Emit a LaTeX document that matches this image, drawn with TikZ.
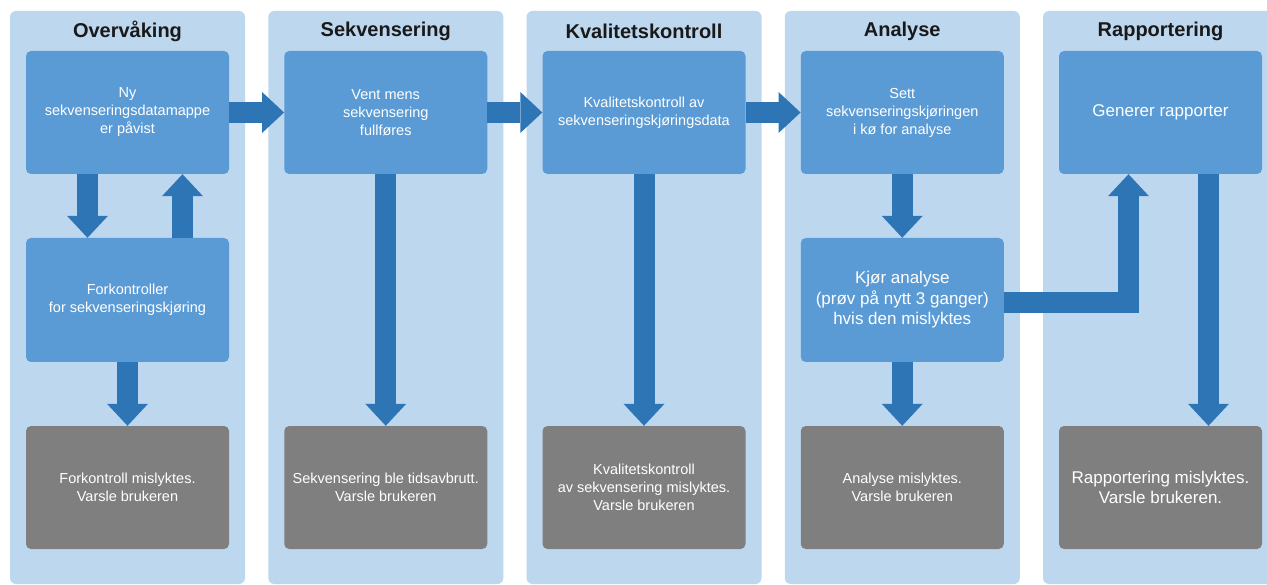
\documentclass[tikz,border=0pt]{standalone}
\usepackage{fontspec}
\setmainfont{Liberation Sans}
\usepackage{tikz}
\usepackage{xcolor}
\usetikzlibrary{arrows.meta, positioning}

\definecolor{panelblue}{RGB}{189,215,238}
\definecolor{stepblue}{RGB}{91,155,213}
\definecolor{flowblue}{RGB}{46,117,182}
\definecolor{failgray}{RGB}{127,127,127}

\begin{document}
\begin{tikzpicture}[x=1pt, y=-1pt,
    panel/.style={fill=panelblue, rounded corners=6pt},
    title/.style={font=\fontsize{20}{24}\selectfont\bfseries, text=black!90},
    stepbox/.style={fill=stepblue, rounded corners=5pt, minimum width=203pt, minimum height=123pt,
        inner sep=0pt, align=center, text=white, font=\fontsize{14.5}{18}\selectfont},
    failbox/.style={stepbox, fill=failgray},
    bigtext/.style={font=\fontsize{17}{20.5}\selectfont},
    flow/.style={draw=flowblue, line width=21pt, -{Triangle[length=22pt, width=41pt, line width=0pt]}}]

        % Canvas
        \fill[white] (0,0) rectangle (1267,585);
        \useasboundingbox (0,0) rectangle (1267,585);
        \clip (0,0) rectangle (1267,585);

        % Phase panels
        \foreach \i/\ttl in {0/Overvåking, 1/Sekvensering, 2/Kvalitetskontroll, 3/Analyse, 4/Rapportering} {
            \fill[panel] (10+258.25*\i, 11) rectangle (245+258.25*\i, 584);
            \node[title] (title\i) at (127.5+258.25*\i, 31) {\ttl};
        }

        % Overvåking
        \node[stepbox] (nydata) at (127.5, 112.5) {Ny\\sekvenseringsdatamappe\\er påvist};
        \node[stepbox, minimum height=124pt] (forkontr) at (127.5, 300) {Forkontroller\\for sekvenseringskjøring};
        \node[failbox] (forfail) at (127.5, 487.5) {Forkontroll mislyktes.\\Varsle brukeren};

        % Sekvensering
        \node[stepbox] (vent) at (385.75, 112.5) {Vent mens\\sekvensering\\fullføres};
        \node[failbox] (sekfail) at (385.75, 487.5) {Sekvensering ble tidsavbrutt.\\Varsle brukeren};

        % Kvalitetskontroll
        \node[stepbox] (kvalitet) at (644, 112.5) {Kvalitetskontroll av\\sekvenseringskjøringsdata};
        \node[failbox] (kvalfail) at (644, 487.5) {Kvalitetskontroll\\av sekvensering mislyktes.\\Varsle brukeren};

        % Analyse
        \node[stepbox] (koe) at (902.25, 112.5) {Sett\\sekvenseringskjøringen\\i kø for analyse};
        \node[stepbox, bigtext, minimum height=124pt] (kjor) at (902.25, 300) {Kjør analyse\\(prøv på nytt 3 ganger)\\hvis den mislyktes};
        \node[failbox] (anafail) at (902.25, 487.5) {Analyse mislyktes.\\Varsle brukeren};

        % Rapportering
        \node[stepbox, bigtext] (rapport) at (1160.5, 112.5) {Generer rapporter};
        \node[failbox, bigtext] (rapfail) at (1160.5, 487.5) {Rapportering mislyktes.\\Varsle brukeren.};

        % Flow between phases
        \draw[flow] (nydata.east) -- (vent.west);
        \draw[flow] (vent.east) -- (kvalitet.west);
        \draw[flow] (kvalitet.east) -- (koe.west);

        % Checks and failures
        \draw[flow] ([xshift=-40pt]nydata.south) -- ([xshift=-40pt]forkontr.north);
        \draw[flow] ([xshift=55pt]forkontr.north) -- ([xshift=55pt]nydata.south);
        \draw[flow] (forkontr.south) -- (forfail.north);
        \draw[flow] (vent.south) -- (sekfail.north);
        \draw[flow] (kvalitet.south) -- (kvalfail.north);
        \draw[flow] (koe.south) -- (kjor.north);
        \draw[flow] (kjor.south) -- (anafail.north);
        \draw[flow] ([yshift=-3pt]kjor.east) -| ([xshift=-32pt]rapport.south);
        \draw[flow] ([xshift=48pt]rapport.south) -- ([xshift=48pt]rapfail.north);
    \end{tikzpicture}
\end{document}
